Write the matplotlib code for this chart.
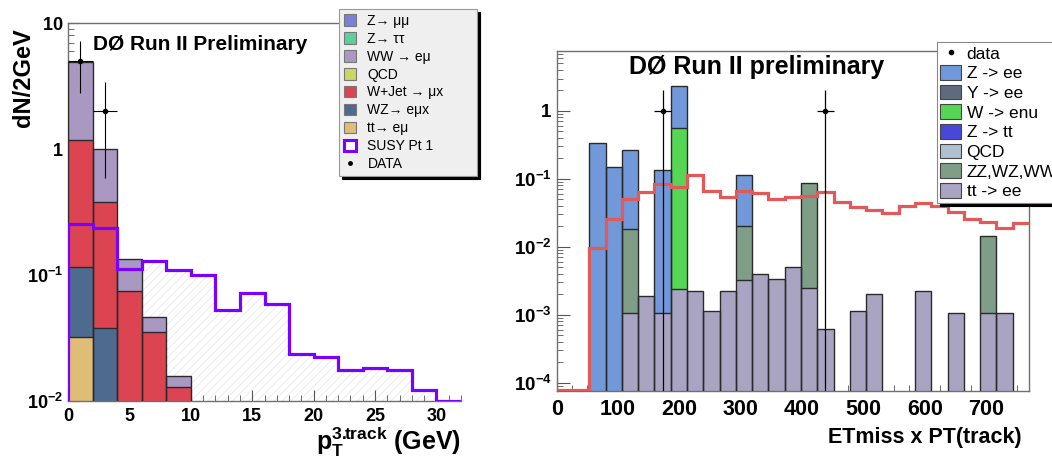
import numpy as np
import matplotlib
matplotlib.use("Agg")
import matplotlib.pyplot as plt
from matplotlib.patches import Patch
from matplotlib.lines import Line2D
from matplotlib.ticker import FixedLocator, FixedFormatter, MultipleLocator, LogLocator, NullFormatter

plt.rcParams['font.family'] = ['Liberation Sans', 'DejaVu Sans']
plt.rcParams['mathtext.fontset'] = 'custom'
plt.rcParams['mathtext.rm'] = 'Liberation Sans'
plt.rcParams['mathtext.bf'] = 'Liberation Sans:bold'
plt.rcParams['mathtext.it'] = 'Liberation Sans:italic'
plt.rcParams['hatch.linewidth'] = 0.6

# ---------------- Left panel data (bins of 2 GeV, 0..32) ----------------
left_edges = np.arange(0, 34, 2)
left_tt = [0.0325, 0, 0, 0, 0, 0, 0, 0, 0, 0, 0, 0, 0, 0, 0, 0]
left_wz = [0.0835, 0.038, 0, 0, 0, 0, 0, 0, 0, 0, 0, 0, 0, 0, 0, 0]
left_wjet = [1.064, 0.344, 0.075, 0.0355, 0.013, 0, 0, 0, 0, 0, 0, 0, 0, 0, 0, 0]
left_qcd = [0] * 16
left_ww = [3.69, 0.618, 0.06, 0.0112, 0.0029, 0, 0, 0, 0, 0, 0, 0, 0, 0, 0, 0]
left_ztautau = [0] * 16
left_zmumu = [0] * 16
left_susy = [0.254, 0.235, 0.112, 0.128, 0.110, 0.100, 0.0527, 0.0715, 0.0589,
             0.0235, 0.0222, 0.0176, 0.0184, 0.0176, 0.0122, 0.0100]
left_data_x = [1, 3]
left_data_y = [5, 2]

left_labels = ["Z\u2192 \u03bc\u03bc", "Z\u2192 \u03c4\u03c4", "WW \u2192 e\u03bc", "QCD",
               "W+Jet \u2192 \u03bcx", "WZ\u2192 e\u03bcx", "tt\u2192 e\u03bc", "SUSY Pt 1", "DATA"]
left_colors = {"zmumu": "#7b80d9", "ztautau": "#5ccf9c", "ww": "#a898c2", "qcd": "#c9d862",
               "wjet": "#dc4452", "wz": "#4e6a8f", "tt": "#dfbd77", "susy": "#7a00ff"}

# ---------------- Right panel data (29 bins, 0..770) ----------------
right_edges = np.linspace(0, 770, 30)
nb = 29
right_tt = np.zeros(nb)
for i, v in {4: 0.00107, 5: 0.00188, 6: 0.00107, 7: 0.00237, 8: 0.00223, 9: 0.00113,
             10: 0.00223, 11: 0.00324, 12: 0.00394, 13: 0.00332, 14: 0.00509, 15: 0.0025,
             16: 0.000616, 18: 0.00113, 19: 0.0020, 22: 0.00223, 24: 0.00107, 26: 0.00107,
             27: 0.00107}.items():
    right_tt[i] = v
right_zz = np.zeros(nb)
for i, v in {4: 0.017, 11: 0.017, 15: 0.0836, 26: 0.0135}.items():
    right_zz[i] = v
right_qcd = np.zeros(nb)
right_ztt = np.zeros(nb)
right_wenu = np.zeros(nb)
right_wenu[7] = 0.565
right_yee = np.zeros(nb)
right_zee = np.zeros(nb)
for i, v in {2: 0.341, 3: 0.148, 4: 0.249, 6: 0.134, 7: 1.76, 11: 0.092}.items():
    right_zee[i] = v
right_signal = [0, 0, 0.0097, 0.0257, 0.0506, 0.0648, 0.084, 0.0752, 0.112, 0.067,
                0.0547, 0.066, 0.0626, 0.0506, 0.0547, 0.0566, 0.0634, 0.0462, 0.039,
                0.0348, 0.0311, 0.0403, 0.0437, 0.0403, 0.0329, 0.0257, 0.0234, 0.0187, 0.0226]
right_data_bins = [6, 16]
right_data_y = [1, 1]

right_labels = ["data", "Z -> ee", "Y -> ee", "W -> enu", "Z -> tt", "QCD", "ZZ,WZ,WW", "tt -> ee"]
right_colors = {"zee": "#7199d9", "yee": "#5f6b7d", "wenu": "#56d655", "ztt": "#4848d8",
                "qcd": "#b0c0cc", "zz": "#7e9e87", "tt": "#a9a4c2", "signal": "#e2595a"}

# ---------------- Figure ----------------
fig = plt.figure(figsize=(10.52, 4.63), dpi=100)
axL = fig.add_axes([68 / 1052, 62 / 463, 393 / 1052, 378 / 463])
axR = fig.add_axes([556.7 / 1052, 72.3 / 463, 472.3 / 1052, 340 / 463])

frame_col = '#707070'


def draw_stack(ax, edges, comps, ylo):
    bottom = np.zeros(len(edges) - 1)
    for vals, col in comps:
        vals = np.asarray(vals, float)
        top = bottom + vals
        for i in range(len(vals)):
            if vals[i] > 0:
                ax.stairs([top[i]], edges[i:i + 2], baseline=max(bottom[i], ylo * 0.5),
                          fill=True, facecolor=col, edgecolor='none', zorder=2)
                ax.stairs([top[i]], edges[i:i + 2], baseline=max(bottom[i], ylo * 0.5),
                          fill=False, edgecolor='#2a2a2a', lw=1.0, zorder=3)
        bottom = top
    return bottom


# ---- Left ----
yloL, yhiL = 0.01, 10
axL.set_yscale('log')
axL.set_xlim(0, 32)
axL.set_ylim(yloL, yhiL)
axL.stairs(left_susy, left_edges, baseline=yloL * 0.5, fill=True, facecolor='none',
           edgecolor='#e8e8e8', hatch='////', lw=0, zorder=1)
draw_stack(axL, left_edges, [(left_tt, left_colors['tt']), (left_wz, left_colors['wz']),
                             (left_wjet, left_colors['wjet']), (left_qcd, left_colors['qcd']),
                             (left_ww, left_colors['ww']), (left_ztautau, left_colors['ztautau']),
                             (left_zmumu, left_colors['zmumu'])], yloL)
axL.stairs(left_susy, left_edges, color=left_colors['susy'], lw=2.3, zorder=4)
ld = np.array(left_data_y, float)
axL.errorbar(left_data_x, ld, yerr=np.sqrt(ld), xerr=1, fmt='o', ms=3, color='black',
             elinewidth=0.8, capsize=0, zorder=5)

axL.xaxis.set_major_locator(MultipleLocator(5))
axL.xaxis.set_minor_locator(MultipleLocator(1))
axL.yaxis.set_major_locator(FixedLocator([0.01, 0.1, 1, 10]))
axL.yaxis.set_major_formatter(FixedFormatter([r'$\mathbf{10^{-2}}$', r'$\mathbf{10^{-1}}$',
                                              r'$\mathbf{1}$', r'$\mathbf{10}$']))
axL.yaxis.set_minor_locator(LogLocator(base=10, subs=np.arange(2, 10)))
axL.yaxis.set_minor_formatter(NullFormatter())
axL.tick_params(axis='both', which='both', direction='in', color='#555555')
axL.tick_params(axis='both', which='major', length=8, labelsize=13)
axL.tick_params(axis='both', which='minor', length=4)
axL.tick_params(axis='x', pad=5)
for lab in axL.get_xticklabels():
    lab.set_fontweight('bold')
for s in axL.spines.values():
    s.set_color(frame_col)
    s.set_linewidth(1.0)
axL.spines['right'].set_visible(False)

fig.text(93 / 1052, 1 - 45 / 463, "D\u00d8 Run II Preliminary", fontsize=15,
         fontweight='bold', ha='left', va='center')
fig.text(24 / 1052, 1 - 78 / 463, "dN/2GeV", rotation=90, fontsize=17, fontweight='bold',
         ha='center', va='center')
fig.text(461 / 1052, 4 / 463, r'$\mathbf{p}_{\mathbf{T}}^{\mathbf{3.}\!\!\mathbf{track}}$ (GeV)',
         fontsize=18, fontweight='bold', ha='right', va='bottom')

hL = [Patch(facecolor=left_colors[k], edgecolor='#777777', lw=0.8)
      for k in ['zmumu', 'ztautau', 'ww', 'qcd', 'wjet', 'wz', 'tt']]
hL.append(Patch(facecolor='white', edgecolor=left_colors['susy'], lw=2.2))
hL.append(Line2D([], [], marker='o', ms=2.5, ls='none', color='black'))
legL = fig.legend(hL, left_labels, loc='upper left',
                  bbox_to_anchor=(339 / 1052, 1 - 164 / 463, 138 / 1052, 155 / 463),
                  mode='expand', bbox_transform=fig.transFigure, borderaxespad=0, fontsize=10,
                  labelspacing=0.28, handlelength=0.9, handleheight=0.9, handletextpad=0.8,
                  borderpad=0.35, fancybox=False, frameon=True, shadow={'color': 'black', 'alpha': 1},
                  edgecolor='#999999', facecolor='#efefef', framealpha=1)
legL.get_frame().set_linewidth(0.8)

# ---- Right ----
yloR, yhiR = 7.6e-5, 7.7
axR.set_yscale('log')
axR.set_xlim(0, 770)
axR.set_ylim(yloR, yhiR)
draw_stack(axR, right_edges, [(right_tt, right_colors['tt']), (right_zz, right_colors['zz']),
                              (right_qcd, right_colors['qcd']), (right_ztt, right_colors['ztt']),
                              (right_wenu, right_colors['wenu']), (right_yee, right_colors['yee']),
                              (right_zee, right_colors['zee'])], yloR)
axR.stairs(np.maximum(right_signal, yloR * 1.03), right_edges, baseline=None,
           color=right_colors['signal'], lw=2.3, zorder=4)
centers = 0.5 * (right_edges[:-1] + right_edges[1:])
dx = [centers[i] for i in right_data_bins]
dy = np.array(right_data_y, float)
lower = dy - np.maximum(dy - np.sqrt(dy), yloR * 0.5)
axR.errorbar(dx, dy, yerr=[lower, np.sqrt(dy)], xerr=(right_edges[1] - right_edges[0]) / 2,
             fmt='o', ms=3, color='black', elinewidth=0.9, capsize=0, zorder=5)

axR.xaxis.set_major_locator(MultipleLocator(100))
axR.xaxis.set_minor_locator(MultipleLocator(25))
axR.yaxis.set_major_locator(FixedLocator([1e-4, 1e-3, 1e-2, 1e-1, 1]))
axR.yaxis.set_major_formatter(FixedFormatter([r'$\mathbf{10^{-4}}$', r'$\mathbf{10^{-3}}$',
                                              r'$\mathbf{10^{-2}}$', r'$\mathbf{10^{-1}}$',
                                              r'$\mathbf{1}$']))
axR.yaxis.set_minor_locator(LogLocator(base=10, subs=np.arange(2, 10)))
axR.yaxis.set_minor_formatter(NullFormatter())
axR.tick_params(axis='both', which='both', direction='in', color='#555555')
axR.tick_params(axis='both', which='major', length=9, labelsize=15.5)
axR.tick_params(axis='both', which='minor', length=4)
axR.tick_params(axis='y', labelsize=13.5)
axR.tick_params(axis='x', pad=6)
for lab in axR.get_xticklabels():
    lab.set_fontweight('bold')
for s in axR.spines.values():
    s.set_color(frame_col)
    s.set_linewidth(1.0)

fig.text(757 / 1052, 1 - 67 / 463, "D\u00d8 Run II preliminary", fontsize=18,
         fontweight='bold', ha='center', va='center')
fig.text(1022 / 1052, 1 - 437 / 463, "ETmiss x PT(track)", fontsize=15.5, fontweight='bold',
         ha='right', va='center')

hR = [Line2D([], [], marker='o', ms=3, ls='none', color='black')]
hR += [Patch(facecolor=right_colors[k], edgecolor='#444444', lw=0.8)
       for k in ['zee', 'yee', 'wenu', 'ztt', 'qcd', 'zz', 'tt']]
legR = fig.legend(hR, right_labels, loc='upper left', bbox_to_anchor=(937 / 1052, 1 - 42 / 463),
                  bbox_transform=fig.transFigure, borderaxespad=0, fontsize=12.5,
                  labelspacing=0.2, handlelength=1.2, handleheight=0.9, handletextpad=0.3,
                  borderpad=0.2, fancybox=False, frameon=True, shadow={'color': 'black', 'alpha': 1},
                  edgecolor='#888888', facecolor='white', framealpha=1)
legR.get_frame().set_linewidth(0.8)

fig.savefig("out.png", dpi=100)
